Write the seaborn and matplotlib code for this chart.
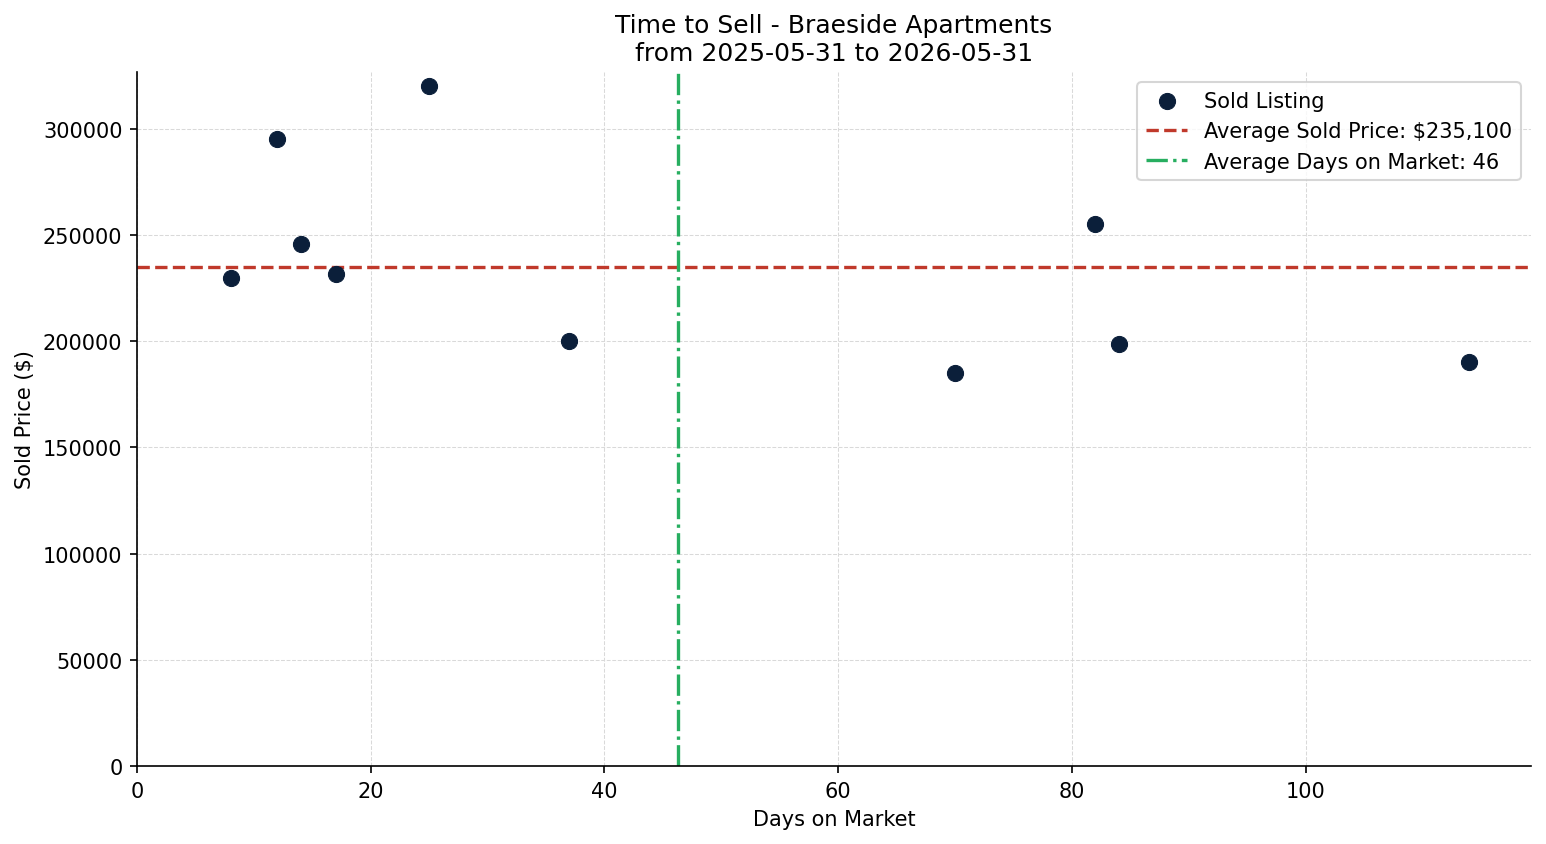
import pandas as pd
import matplotlib
matplotlib.use("Agg")
import matplotlib.pyplot as plt
import seaborn as sns

# Sold listings data
days_on_market = [8, 12, 14, 17, 25, 37, 70, 82, 84, 114]
sold_price = [230000, 295000, 246000, 231500, 320000, 200000, 185000, 255000, 198500, 190000]

df = pd.DataFrame({"Days on Market": days_on_market, "Sold Price": sold_price})
avg_price = df["Sold Price"].mean()
avg_days = df["Days on Market"].mean()

sns.set_style("ticks", {"axes.edgecolor": "black", "text.color": "black",
                        "axes.labelcolor": "black", "xtick.color": "black",
                        "ytick.color": "black"})
plt.rcParams["font.family"] = ["DejaVu Sans"]

fig, ax = plt.subplots(figsize=(10.313, 5.633), dpi=150)
sns.scatterplot(data=df, x="Days on Market", y="Sold Price", color="#0b1f3a",
                s=60, edgecolor="#0b1f3a", linewidth=0.5, label="Sold Listing", ax=ax, zorder=3)
ax.axhline(avg_price, color="#c0392b", linestyle="--", linewidth=1.6,
           label=f"Average Sold Price: ${avg_price:,.0f}")
ax.axvline(avg_days, color="#27ae60", linestyle="-.", linewidth=1.6,
           label=f"Average Days on Market: {avg_days:.0f}")

ax.set_xlim(left=0)
ax.set_ylim(bottom=0)
ax.set_title("Time to Sell - Braeside Apartments\nfrom 2025-05-31 to 2026-05-31", fontsize=12)
ax.set_xlabel("Days on Market")
ax.set_ylabel("Sold Price ($)")
ax.grid(True, linestyle="--", linewidth=0.5, color="#d9d9d9")
ax.legend(loc="upper right")
sns.despine()
fig.subplots_adjust(left=0.0886, right=0.9897, top=0.9136, bottom=0.0923)
plt.savefig("out.png", dpi=150)
